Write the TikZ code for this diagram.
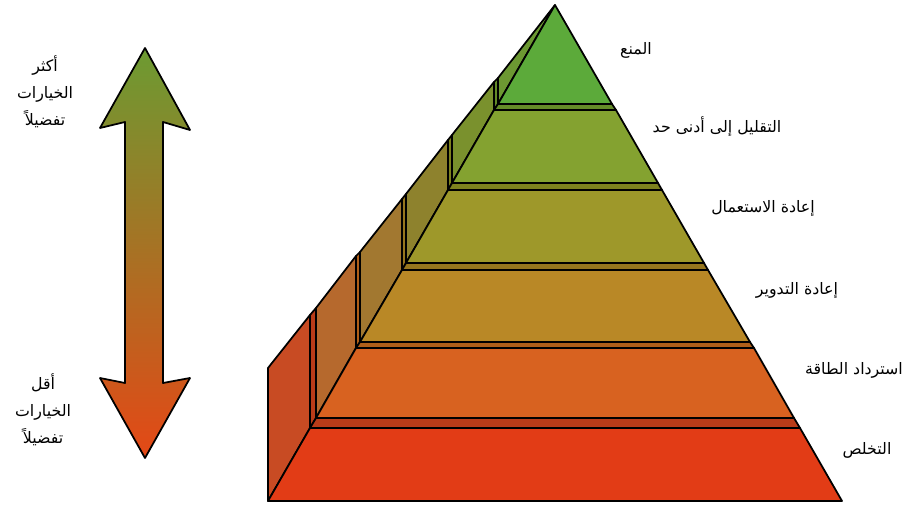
\documentclass[tikz,border=0pt]{standalone}
\usepackage{fontspec}
\newfontfamily\arabicfont[Script=Arabic]{DejaVu Sans}
\TeXXeTstate=1
\newcommand{\artext}[1]{\beginR#1\endR}

\definecolor{front1}{RGB}{92,170,58}
\definecolor{front2}{RGB}{132,162,48}
\definecolor{front3}{RGB}{158,152,42}
\definecolor{front4}{RGB}{185,136,38}
\definecolor{front5}{RGB}{216,98,32}
\definecolor{front6}{RGB}{226,60,22}
\definecolor{wall1}{RGB}{108,152,50}
\definecolor{wall2}{RGB}{122,145,45}
\definecolor{wall3}{RGB}{142,130,45}
\definecolor{wall4}{RGB}{162,120,48}
\definecolor{wall5}{RGB}{182,105,45}
\definecolor{wall6}{RGB}{200,75,35}
\definecolor{strip12}{RGB}{100,140,40}
\definecolor{strip23}{RGB}{125,130,30}
\definecolor{strip34}{RGB}{150,118,30}
\definecolor{strip45}{RGB}{175,95,25}
\definecolor{strip56}{RGB}{185,60,25}
\definecolor{arrowtop}{RGB}{108,155,50}
\definecolor{arrowmid}{RGB}{168,128,40}
\definecolor{arrowbot}{RGB}{228,72,22}

\begin{document}
\begin{tikzpicture}[x=0.02cm, y=-0.02cm,
face/.style={draw=black, line width=1pt, line join=round},
arlabel/.style={font=\arabicfont\fontsize{9}{15.5}\selectfont, align=center, inner sep=0pt}]
\useasboundingbox (0,0) rectangle (904,506);

% Arrow
\shadedraw[face, top color=arrowtop, middle color=arrowmid, bottom color=arrowbot]
(145,48) -- (190,130) -- (163,122) -- (163,383) -- (190,378) -- (145,458)
-- (100,378) -- (125,383) -- (125,122) -- (100,128) -- cycle;

\node[arlabel] (most) at (45,92) {\artext{أكثر}\\\artext{الخيارات}\\\artext{تفضيلاً}};
\node[arlabel] (least) at (43,410) {\artext{أقل}\\\artext{الخيارات}\\\artext{تفضيلاً}};

% Walls
\filldraw[face, fill=wall6] (268,501) -- (310,428) -- (310,315) -- (268,368) -- cycle;
\filldraw[face, fill=strip56] (310,428) -- (316,418) -- (316,308) -- (310,315) -- cycle;
\filldraw[face, fill=wall5] (316,418) -- (356,348) -- (356,256) -- (316,308) -- cycle;
\filldraw[face, fill=strip45] (356,348) -- (360,342) -- (360,252) -- (356,256) -- cycle;
\filldraw[face, fill=wall4] (360,342) -- (402,270) -- (402,199) -- (360,252) -- cycle;
\filldraw[face, fill=strip34] (402,270) -- (406,263) -- (406,194) -- (402,199) -- cycle;
\filldraw[face, fill=wall3] (406,263) -- (448,190) -- (448,140) -- (406,194) -- cycle;
\filldraw[face, fill=strip23] (448,190) -- (452,183) -- (452,135) -- (448,140) -- cycle;
\filldraw[face, fill=wall2] (452,183) -- (494,110) -- (494,82) -- (452,135) -- cycle;
\filldraw[face, fill=strip12] (494,110) -- (498,104) -- (498,78) -- (494,82) -- cycle;
\filldraw[face, fill=wall1] (498,104) -- (555,5) -- (498,78) -- cycle;

% Level 1
\filldraw[face, fill=front1] (555,5) -- (612,104) -- (498,104) -- cycle;
\filldraw[face, fill=strip12] (498,104) -- (612,104) -- (616,110) -- (494,110) -- cycle;
% Level 2
\filldraw[face, fill=front2] (494,110) -- (616,110) -- (658,183) -- (452,183) -- cycle;
\filldraw[face, fill=strip23] (452,183) -- (658,183) -- (662,190) -- (448,190) -- cycle;
% Level 3
\filldraw[face, fill=front3] (448,190) -- (662,190) -- (704,263) -- (406,263) -- cycle;
\filldraw[face, fill=strip34] (406,263) -- (704,263) -- (708,270) -- (402,270) -- cycle;
% Level 4
\filldraw[face, fill=front4] (402,270) -- (708,270) -- (750,342) -- (360,342) -- cycle;
\filldraw[face, fill=strip45] (360,342) -- (750,342) -- (754,348) -- (356,348) -- cycle;
% Level 5
\filldraw[face, fill=front5] (356,348) -- (754,348) -- (794,418) -- (316,418) -- cycle;
\filldraw[face, fill=strip56] (316,418) -- (794,418) -- (800,428) -- (310,428) -- cycle;
% Level 6
\filldraw[face, fill=front6] (310,428) -- (800,428) -- (842,501) -- (268,501) -- cycle;

% Labels
\node[arlabel] (prevention) at (636,50) {\artext{المنع}};
\node[arlabel] (minimise) at (717,127) {\artext{التقليل إلى أدنى حد}};
\node[arlabel] (reuse) at (763,208) {\artext{إعادة الاستعمال}};
\node[arlabel] (recycle) at (797,290) {\artext{إعادة التدوير}};
\node[arlabel] (recovery) at (854,370) {\artext{استرداد الطاقة}};
\node[arlabel] (disposal) at (867,450) {\artext{التخلص}};

\end{tikzpicture}
\end{document}
